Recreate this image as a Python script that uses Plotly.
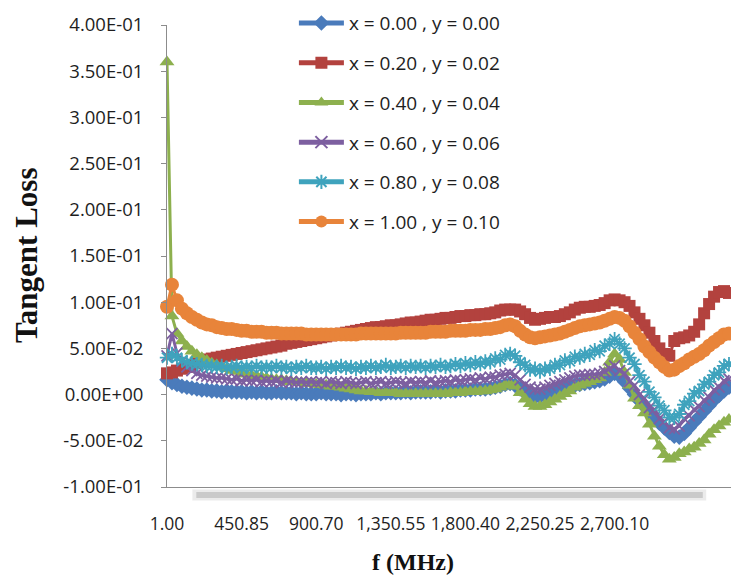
import plotly.graph_objects as go

# Frequency sweep grid (MHz)
FREQ_START = 1.0
FREQ_STEP = 29.99
N_POINTS = 114
freq = [round(FREQ_START + FREQ_STEP * i, 2) for i in range(N_POINTS)]

labels = ["x = 0.00 , y = 0.00", "x = 0.20 , y = 0.02", "x = 0.40 , y = 0.04",
          "x = 0.60 , y = 0.06", "x = 0.80 , y = 0.08", "x = 1.00 , y = 0.10"]

loss_x000 = [
    0.016, 0.013, 0.011, 0.009, 0.008, 0.007, 0.006, 0.005, 0.005, 0.004,
    0.004, 0.003, 0.004, 0.003, 0.003, 0.003, 0.002, 0.003, 0.002, 0.003,
    0.002, 0.002, 0.003, 0.002, 0.002, 0.002, 0.001, 0.002, 0.001, 0.001,
    0.001, 0.002, 0.001, 0.001, 0.001, 0.000, 0.001, 0.001, 0.000, 0.001,
    0.001, 0.001, 0.002, 0.001, 0.002, 0.002, 0.002, 0.002, 0.003, 0.002,
    0.003, 0.003, 0.003, 0.003, 0.004, 0.003, 0.004, 0.004, 0.004, 0.005,
    0.005, 0.005, 0.006, 0.006, 0.006, 0.007, 0.008, 0.009, 0.011, 0.012,
    0.010, 0.006, 0.002, -0.001, -0.003, -0.002, -0.001, 0.001, 0.003, 0.005,
    0.007, 0.009, 0.010, 0.011, 0.012, 0.013, 0.014, 0.015, 0.017, 0.020,
    0.023, 0.020, 0.014, 0.007, 0.000, -0.007, -0.013, -0.019, -0.025, -0.031,
    -0.036, -0.041, -0.045, -0.046, -0.042, -0.036, -0.030, -0.024, -0.018, -0.012,
    -0.006, -0.001, 0.004, 0.008,
]

loss_x020 = [
    0.023, 0.024, 0.026, 0.028, 0.030, 0.032, 0.034, 0.036, 0.038, 0.039,
    0.040, 0.041, 0.042, 0.043, 0.044, 0.045, 0.046, 0.047, 0.048, 0.049,
    0.050, 0.051, 0.052, 0.053, 0.055, 0.056, 0.057, 0.058, 0.059, 0.060,
    0.061, 0.062, 0.063, 0.064, 0.065, 0.066, 0.067, 0.068, 0.069, 0.070,
    0.071, 0.072, 0.073, 0.073, 0.074, 0.075, 0.075, 0.076, 0.077, 0.078,
    0.078, 0.079, 0.080, 0.081, 0.081, 0.082, 0.083, 0.083, 0.084, 0.085,
    0.085, 0.086, 0.086, 0.087, 0.087, 0.088, 0.089, 0.091, 0.092, 0.092,
    0.092, 0.090, 0.087, 0.083, 0.081, 0.082, 0.083, 0.084, 0.084, 0.085,
    0.087, 0.089, 0.092, 0.094, 0.095, 0.095, 0.096, 0.097, 0.099, 0.102,
    0.103, 0.102, 0.100, 0.096, 0.089, 0.082, 0.075, 0.067, 0.058, 0.050,
    0.044, 0.042, 0.058, 0.061, 0.062, 0.064, 0.068, 0.076, 0.088, 0.098,
    0.106, 0.111, 0.112, 0.110,
]

loss_x040 = [
    0.360, 0.085, 0.066, 0.058, 0.052, 0.047, 0.043, 0.040, 0.037, 0.034,
    0.032, 0.030, 0.028, 0.026, 0.025, 0.023, 0.022, 0.021, 0.020, 0.019,
    0.018, 0.017, 0.016, 0.016, 0.015, 0.014, 0.014, 0.013, 0.012, 0.012,
    0.011, 0.011, 0.010, 0.009, 0.009, 0.008, 0.007, 0.006, 0.005, 0.004,
    0.004, 0.003, 0.003, 0.002, 0.002, 0.002, 0.002, 0.001, 0.001, 0.001,
    0.001, 0.001, 0.001, 0.001, 0.001, 0.001, 0.001, 0.002, 0.002, 0.002,
    0.003, 0.003, 0.003, 0.004, 0.004, 0.005, 0.006, 0.008, 0.010, 0.011,
    0.009, 0.002, -0.005, -0.010, -0.013, -0.013, -0.011, -0.008, -0.005, -0.002,
    0.001, 0.004, 0.008, 0.010, 0.012, 0.014, 0.016, 0.018, 0.024, 0.035,
    0.044, 0.038, 0.024, 0.010, -0.004, -0.012, -0.020, -0.032, -0.045, -0.056,
    -0.065, -0.070, -0.068, -0.064, -0.062, -0.059, -0.057, -0.053, -0.049, -0.043,
    -0.038, -0.034, -0.030, -0.027,
]

loss_x060 = [
    0.042, 0.066, 0.045, 0.036, 0.030, 0.026, 0.023, 0.021, 0.020, 0.019,
    0.018, 0.018, 0.017, 0.016, 0.017, 0.015, 0.016, 0.015, 0.016, 0.014,
    0.015, 0.014, 0.015, 0.013, 0.015, 0.014, 0.013, 0.014, 0.013, 0.014,
    0.013, 0.014, 0.012, 0.014, 0.013, 0.012, 0.014, 0.013, 0.012, 0.013,
    0.014, 0.012, 0.013, 0.014, 0.012, 0.013, 0.014, 0.013, 0.012, 0.014,
    0.013, 0.014, 0.013, 0.015, 0.013, 0.014, 0.015, 0.014, 0.016, 0.015,
    0.016, 0.017, 0.016, 0.018, 0.017, 0.019, 0.019, 0.021, 0.022, 0.023,
    0.021, 0.016, 0.011, 0.008, 0.006, 0.006, 0.008, 0.010, 0.012, 0.014,
    0.016, 0.018, 0.020, 0.021, 0.021, 0.022, 0.022, 0.023, 0.025, 0.028,
    0.031, 0.026, 0.023, 0.014, 0.010, 0.000, -0.004, -0.014, -0.016, -0.026,
    -0.029, -0.036, -0.037, -0.034, -0.026, -0.023, -0.016, -0.013, -0.006, -0.003,
    0.005, 0.008, 0.015, 0.017,
]

loss_x080 = [
    0.040, 0.044, 0.040, 0.037, 0.035, 0.034, 0.033, 0.032, 0.031, 0.031,
    0.030, 0.031, 0.029, 0.030, 0.031, 0.029, 0.030, 0.029, 0.031, 0.029,
    0.030, 0.029, 0.031, 0.029, 0.030, 0.028, 0.030, 0.029, 0.031, 0.029,
    0.029, 0.030, 0.028, 0.030, 0.029, 0.031, 0.029, 0.030, 0.028, 0.030,
    0.029, 0.031, 0.029, 0.030, 0.032, 0.029, 0.030, 0.031, 0.029, 0.031,
    0.030, 0.031, 0.029, 0.031, 0.030, 0.032, 0.030, 0.031, 0.033, 0.031,
    0.034, 0.032, 0.035, 0.033, 0.036, 0.035, 0.039, 0.038, 0.043, 0.044,
    0.042, 0.035, 0.032, 0.027, 0.028, 0.025, 0.028, 0.028, 0.032, 0.032,
    0.037, 0.036, 0.041, 0.040, 0.044, 0.043, 0.048, 0.047, 0.053, 0.055,
    0.060, 0.055, 0.050, 0.040, 0.033, 0.021, 0.014, 0.003, -0.003, -0.012,
    -0.017, -0.025, -0.025, -0.021, -0.011, -0.007, 0.001, 0.004, 0.011, 0.014,
    0.021, 0.024, 0.031, 0.033,
]

loss_x100 = [
    0.095, 0.119, 0.102, 0.093, 0.088, 0.084, 0.081, 0.078, 0.076, 0.075,
    0.073, 0.072, 0.071, 0.071, 0.070, 0.069, 0.069, 0.068, 0.068, 0.068,
    0.067, 0.067, 0.067, 0.066, 0.066, 0.066, 0.066, 0.066, 0.065, 0.065,
    0.065, 0.065, 0.065, 0.065, 0.065, 0.065, 0.065, 0.065, 0.065, 0.066,
    0.066, 0.066, 0.066, 0.066, 0.066, 0.066, 0.066, 0.067, 0.067, 0.067,
    0.067, 0.067, 0.067, 0.068, 0.068, 0.068, 0.068, 0.069, 0.069, 0.069,
    0.069, 0.070, 0.070, 0.070, 0.071, 0.071, 0.072, 0.073, 0.075, 0.076,
    0.074, 0.069, 0.065, 0.062, 0.061, 0.062, 0.063, 0.064, 0.065, 0.066,
    0.068, 0.070, 0.072, 0.074, 0.075, 0.076, 0.077, 0.078, 0.080, 0.082,
    0.084, 0.083, 0.080, 0.074, 0.067, 0.060, 0.052, 0.046, 0.040, 0.035,
    0.030, 0.026, 0.027, 0.031, 0.034, 0.038, 0.041, 0.044, 0.048, 0.053,
    0.057, 0.061, 0.065, 0.066,
]

series = [loss_x000, loss_x020, loss_x040, loss_x060, loss_x080, loss_x100]
colors = ["#4A7BBB", "#B3423E", "#8DB04E", "#7D5FA0", "#3FA3BD", "#E8843A"]
symbols = ["diamond", "square", "triangle-up", "x-thin-open", "asterisk-open", "circle"]
sizes = [12, 12, 13, 11, 12, 14]

y_ticks = [-0.10, -0.05, 0.00, 0.05, 0.10, 0.15, 0.20, 0.25, 0.30, 0.35, 0.40]
x_ticks = [1.00, 450.85, 900.70, 1350.55, 1800.40, 2250.25, 2700.10]

TICK_FONT = dict(family="'Open Sans', Lato, sans-serif", size=18.5, color="#1e1e1e")
XTICK_FONT = dict(family="'Open Sans', Lato, sans-serif", size=17.5, color="#1e1e1e")
LEGEND_FONT = dict(family="'Open Sans', Lato, sans-serif", size=19, color="#1e1e1e")
TITLE_FONT = dict(family="'Liberation Serif', 'Times New Roman', serif", color="#111111")

fig = go.Figure()
for name, vals, col, sym, sz in zip(labels, series, colors, symbols, sizes):
    open_sym = sym.endswith("open")
    fig.add_trace(go.Scatter(
        x=freq, y=vals, name=name, mode="lines+markers",
        line=dict(color=col, width=3),
        marker=dict(symbol=sym, size=sz, color=col,
                    line=dict(color=col, width=1.8 if open_sym else 0)),
        cliponaxis=False, legendgroup=name,
    ))

fig.update_layout(
    width=731, height=580,
    margin=dict(l=167, r=0, t=25, b=93),
    paper_bgcolor="white", plot_bgcolor="white",
    showlegend=True,
    legend=dict(x=0.225, y=1.045, xanchor="left", yanchor="top",
                font=LEGEND_FONT, bgcolor="rgba(0,0,0,0)", itemsizing="constant",
                tracegroupgap=12, itemwidth=45, traceorder="grouped"),
    xaxis=dict(range=[1, 3402], tickmode="array", tickvals=x_ticks,
               ticktext=[f"{v:,.2f}" for v in x_ticks], tickangle=0,
               showgrid=False, zeroline=False, showline=True,
               linecolor="#8c8c8c", linewidth=1, ticks="",
               ticklabelstandoff=21, tickfont=XTICK_FONT),
    yaxis=dict(range=[-0.1, 0.4], tickmode="array", tickvals=y_ticks,
               ticktext=[f"{v:.2E}" for v in y_ticks],
               showgrid=False, zeroline=False, showline=True,
               linecolor="#8c8c8c", linewidth=1, ticks="outside",
               ticklen=5, tickcolor="#8c8c8c", ticklabelstandoff=14,
               tickfont=TICK_FONT),
    annotations=[
        dict(text="<b>Tangent Loss</b>", textangle=-90, x=-0.250, y=0.50,
             xref="paper", yref="paper", xanchor="center", yanchor="middle",
             showarrow=False, font=dict(TITLE_FONT, size=31)),
        dict(text="<b>f (MHz)</b>", x=0.436, y=-0.162,
             xref="paper", yref="paper", xanchor="center", yanchor="middle",
             showarrow=False, font=dict(TITLE_FONT, size=24)),
    ],
    shapes=[
        dict(type="line", xref="paper", yref="paper", x0=0.045, x1=0.956,
             y0=-0.0175, y1=-0.0175, line=dict(color="rgba(190,190,190,0.3)", width=11)),
        dict(type="line", xref="paper", yref="paper", x0=0.052, x1=0.95,
             y0=-0.0175, y1=-0.0175, line=dict(color="rgba(175,175,175,0.55)", width=6)),
    ],
)

fig.write_html("out.html", config={"displayModeBar": False})
